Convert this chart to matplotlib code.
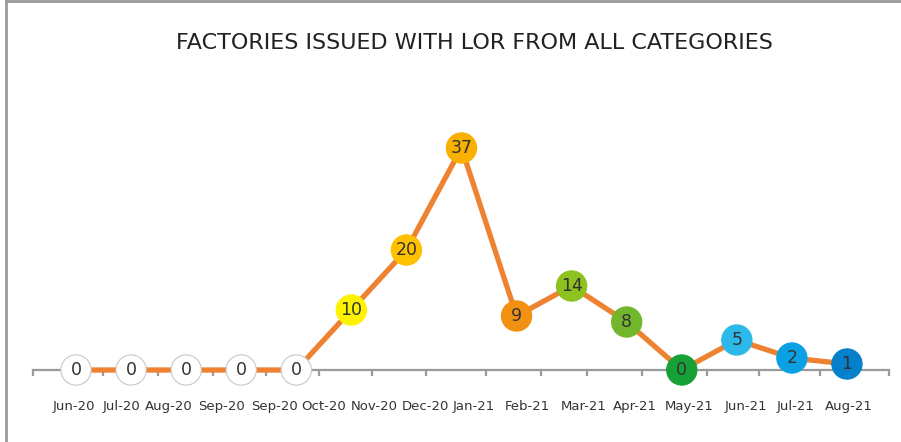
import numpy as np
import matplotlib
matplotlib.use("Agg")
import matplotlib.pyplot as plt
from matplotlib.lines import Line2D

# ---- data ----
months = ["Jun-20", "Jul-20", "Aug-20", "Sep-20", "Sep-20", "Oct-20", "Nov-20", "Dec-20",
          "Jan-21", "Feb-21", "Mar-21", "Apr-21", "May-21", "Jun-21", "Jul-21", "Aug-21"]
values = [0, 0, 0, 0, 0, 10, 20, 37, 9, 14, 8, 0, 5, 2, 1]
point_colors = ["#ffffff", "#ffffff", "#ffffff", "#ffffff", "#ffffff",
                "#fff200", "#ffc000", "#f9b000", "#f29111", "#8dc21f",
                "#72b62c", "#16a136", "#2cb9ea", "#0aa0e4", "#0580cb"]
title = "FACTORIES ISSUED WITH LOR FROM ALL CATEGORIES"

# ---- layout (pixels of the 901x442 canvas) ----
W, H, DPI = 901, 442, 100
first_px, step_px = 76.0, 55.07
tick_px = [33, 103, 158, 213, 266, 319, 372, 426, 486, 541, 587, 642, 707, 759, 820, 889]
label_px = [74, 121, 169, 222, 274, 324, 374, 425, 474, 527, 584, 635, 689, 746, 796, 849]
to_idx = lambda p: (np.asarray(p, float) - first_px) / step_px

fig = plt.figure(figsize=(W / DPI, H / DPI), dpi=DPI)
fig.patch.set_facecolor("white")
base_y, top_y = 370, 130
ax = fig.add_axes([33 / W, (H - base_y) / H, (889 - 33) / W, (base_y - top_y) / H])
ax.set_xlim(to_idx(33), to_idx(889))
ax.set_ylim(0, 40)

x = np.arange(len(values))
ax.plot(x, values, color="#ee8231", lw=3.8, zorder=3, clip_on=False, solid_capstyle="round")
edge = ["#c8c8c8" if c == "#ffffff" else c for c in point_colors]
ax.scatter(x, values, s=475, c=point_colors, edgecolors=edge, linewidths=0.8,
           zorder=4, clip_on=False)
for xi, v in zip(x, values):
    ax.text(xi, v, str(v), ha="center", va="center", fontsize=12.5,
            color="#333333", zorder=5, clip_on=False)

for s in ["left", "right", "top"]:
    ax.spines[s].set_visible(False)
ax.spines["bottom"].set_color("#9a9a9a")
ax.spines["bottom"].set_linewidth(1.6)
ax.set_yticks([])

ax.set_xticks(to_idx(tick_px), minor=True)
ax.tick_params(axis="x", which="minor", length=4, width=1.6, color="#9a9a9a", direction="out")
ax.set_xticks(to_idx(label_px))
ax.set_xticklabels(months, fontsize=9.5, color="#333333")
ax.tick_params(axis="x", which="major", length=0, pad=21.5)

fig.text(474 / W, 1 - 43 / H, title, ha="center", va="center",
         fontsize=16, color="#222222")

fig.add_artist(Line2D([6 / W, 6 / W], [0, 1], transform=fig.transFigure,
                      color="#9a9a9a", lw=2))
fig.add_artist(Line2D([6 / W, 1], [1 - 1.2 / H, 1 - 1.2 / H], transform=fig.transFigure,
                      color="#9a9a9a", lw=2))

fig.savefig("out.png", dpi=DPI)
